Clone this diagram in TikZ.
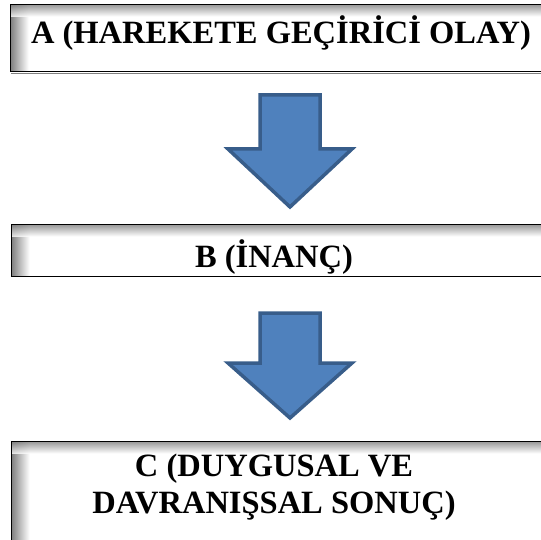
\documentclass[tikz,border=0pt]{standalone}
\usepackage{fontspec}
\setmainfont{Liberation Serif}
\definecolor{arrfill}{HTML}{4F81BD}
\definecolor{arrline}{HTML}{385D8A}
\tikzset{
  lbl/.style={font=\fontsize{32.5}{39}\selectfont\bfseries, inner sep=0pt, anchor=base, align=center},
  bigarrow/.style={fill=arrfill, draw=arrline, line width=3.5pt, line join=miter},
  boxline/.style={draw=black, line width=1.4pt},
}
\newcommand{\shadowbox}[4]{%
  % #1 left, #2 top, #3 right, #4 bottom
  \fill[white] (#1,#2) rectangle (#3,#4);
  \shade[left color=black!50, right color=white] (#1,#2) rectangle ({#1+18},#4);
  \shade[top color=black!50, bottom color=white, fill opacity=0.8] (#1,#2) rectangle (#3,{#2+12});
  \draw[boxline] (#1,#2) rectangle (#3,#4);
}
\begin{document}
\begin{tikzpicture}[x=1pt,y=-1pt]
\useasboundingbox (0,0) rectangle (541,540);
\clip (0,0) rectangle (541,540);
% Box A
\shadowbox{10.5}{4.5}{556}{71.5}
\draw[black!50, line width=0.8pt] (11,73.5) -- (545,73.5);
\node[lbl] (A) at (281,44) {A (HAREKETE GEÇİRİCİ OLAY)};
% Arrow 1
\draw[bigarrow] (260,95) -- (320,95) -- (320,149) -- (352,149) -- (290,207) -- (228,149) -- (260,149) -- cycle;
% Box B
\shadowbox{11.5}{224.5}{556}{276.5}
\begin{scope}
\clip (0,224) rectangle (541,276);
\node[lbl] (B) at (274,267.5) {B (İNANÇ)};
\end{scope}
% Arrow 2
\draw[bigarrow] (260,313) -- (320,313) -- (320,363) -- (352,363) -- (290,418) -- (228,363) -- (260,363) -- cycle;
% Box C
\shadowbox{11.5}{441.5}{556}{560}
\node[lbl] (C1) at (274,476) {C (DUYGUSAL VE};
\node[lbl] (C2) at (274,513) {DAVRANIŞSAL SONUÇ)};
\end{tikzpicture}
\end{document}
